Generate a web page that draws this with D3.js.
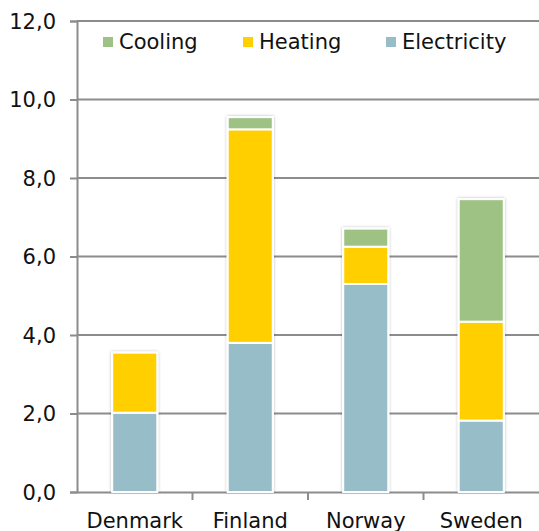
<!DOCTYPE html>
<html>
<head>
<meta charset="utf-8">
<script src="https://cdn.jsdelivr.net/npm/d3@7"></script>
<style>
  body { margin: 0; background: #fff; }
  svg text { font-family: "DejaVu Sans", Verdana, sans-serif; fill: #111; }
</style>
</head>
<body>
<svg id="chart" width="539" height="531"></svg>
<script>
var countries = ["Denmark", "Finland", "Norway", "Sweden"];
var electricity = [2.02, 3.80, 5.30, 1.82];
var heating = [1.53, 5.44, 0.95, 2.52];
var cooling = [0.0, 0.31, 0.46, 3.12];
var series = ["Electricity", "Heating", "Cooling"];
var legendOrder = ["Cooling", "Heating", "Electricity"];
var colors = { Electricity: "#97bdc8", Heating: "#ffcf00", Cooling: "#9dc283" };
var yTicks = [0, 2, 4, 6, 8, 10, 12];

var svg = d3.select("#chart");
var plotLeft = 77, plotRight = 539, plotTop = 21, plotBottom = 492;

var rows = countries.map(function (c, i) {
    return { country: c, Electricity: electricity[i], Heating: heating[i], Cooling: cooling[i] };
});
var stacked = d3.stack().keys(series)(rows);

var x = d3.scaleBand().domain(countries).range([plotLeft, plotRight]).paddingInner(0.61).paddingOuter(0.305);
var y = d3.scaleLinear().domain([0, 12]).range([plotBottom, plotTop]);

// shadow around the bars
var defs = svg.append("defs");
var f = defs.append("filter").attr("id", "glow").attr("x", "-30%").attr("y", "-10%").attr("width", "160%").attr("height", "120%");
f.append("feDropShadow").attr("dx", 0).attr("dy", 0).attr("stdDeviation", 1.6)
    .attr("flood-color", "#000").attr("flood-opacity", 0.3);

// gridlines
svg.append("g")
    .selectAll("line")
    .data(yTicks.slice(1))
    .enter().append("line")
    .attr("x1", plotLeft).attr("x2", plotRight)
    .attr("y1", function (d) { return y(d); })
    .attr("y2", function (d) { return y(d); })
    .attr("stroke", "#8c8c8c")
    .attr("stroke-width", 2);

// y axis
var yAxis = svg.append("g")
    .attr("transform", "translate(" + plotLeft + ",0)")
    .call(d3.axisLeft(y).tickValues(yTicks).tickSize(7).tickPadding(5)
        .tickFormat(function (d) { return d3.format(".1f")(d).replace(".", ","); }));
yAxis.select(".domain").attr("stroke", "#8c8c8c").attr("stroke-width", 2);
yAxis.selectAll(".tick line").attr("stroke", "#8c8c8c").attr("stroke-width", 2);
yAxis.selectAll(".tick text").style("font-size", "21px").attr("dy", "0.35em").attr("x", -21);

// x axis
var xAxis = svg.append("g")
    .attr("transform", "translate(0," + plotBottom + ")")
    .call(d3.axisBottom(x).tickSize(0).tickPadding(21));
xAxis.select(".domain").attr("stroke", "#8c8c8c").attr("stroke-width", 2);
xAxis.selectAll(".tick text").style("font-size", "21px");
// category separators
svg.append("g")
    .selectAll("line")
    .data(countries.slice(1))
    .enter().append("line")
    .attr("x1", function (d) { return x(d) - x.step() * x.paddingInner() / 2; })
    .attr("x2", function (d) { return x(d) - x.step() * x.paddingInner() / 2; })
    .attr("y1", plotBottom).attr("y2", plotBottom + 8)
    .attr("stroke", "#8c8c8c").attr("stroke-width", 2);

// bars
var bars = svg.append("g");
countries.forEach(function (c, i) {
    var total = electricity[i] + heating[i] + cooling[i];
    bars.append("rect")
        .attr("x", x(c) - 1).attr("width", x.bandwidth() + 2)
        .attr("y", y(total) - 1).attr("height", y(0) - y(total) + 1)
        .attr("fill", "#fff")
        .attr("filter", "url(#glow)");
});
bars.selectAll("g")
    .data(stacked)
    .enter().append("g")
    .attr("fill", function (d) { return colors[d.key]; })
    .selectAll("rect")
    .data(function (d) { return d.filter(function (p) { return p[1] - p[0] > 0; }); })
    .enter().append("rect")
    .attr("x", function (d) { return x(d.data.country); })
    .attr("width", x.bandwidth())
    .attr("y", function (d) { return y(d[1]); })
    .attr("height", function (d) { return y(d[0]) - y(d[1]); })
    .attr("stroke", "#fff")
    .attr("stroke-width", 2);

// legend
var legendX = [103, 243, 386];
var legend = svg.append("g");
legendOrder.forEach(function (k, i) {
    legend.append("rect")
        .attr("x", legendX[i]).attr("y", 37)
        .attr("width", 10).attr("height", 10)
        .attr("fill", colors[k]);
    legend.append("text")
        .attr("x", legendX[i] + 16).attr("y", 42)
        .attr("dy", "0.35em")
        .style("font-size", "21px")
        .text(k);
});
</script>
</body>
</html>
